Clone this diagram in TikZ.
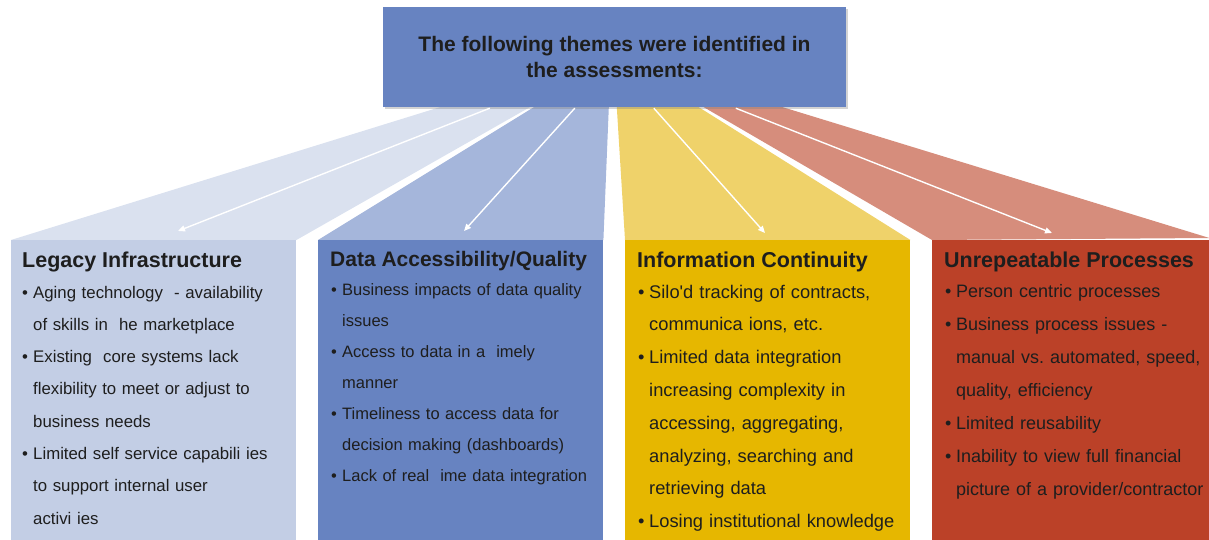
\documentclass[tikz,border=0pt]{standalone}
\usepackage{fontspec}
\setmainfont{Liberation Sans}
\usetikzlibrary{arrows.meta,shadows,calc,backgrounds}
\frenchspacing

\definecolor{topblue}{HTML}{6783C1}
\definecolor{fanA}{HTML}{DAE1EF}
\definecolor{boxA}{HTML}{C3CEE5}
\definecolor{fanB}{HTML}{A5B6DB}
\definecolor{boxB}{HTML}{6783C1}
\definecolor{fanC}{HTML}{EFD26A}
\definecolor{boxC}{HTML}{E6B700}
\definecolor{fanD}{HTML}{D68D7C}
\definecolor{boxD}{HTML}{BB4128}
\definecolor{txt}{HTML}{1E1E1E}

\newcommand{\bitem}{\makebox[11pt][l]{\textbullet}}
\newcommand{\bcont}{\hspace*{11pt}}

\tikzset{
  theme/.style={rectangle,inner sep=0pt,anchor=north west,minimum width=285pt,minimum height=300pt},
  heading/.style={anchor=base west,inner sep=0pt,text=txt,font=\bfseries\fontsize{21.5}{24}\selectfont},
  items/.style={anchor=base west,inner sep=0pt,text=txt,text width=300pt,align=left},
  flow/.style={white,line width=1.4pt,-{Triangle[length=7pt,width=6pt]}}
}

\begin{document}
\begin{tikzpicture}[x=1pt,y=-1pt]

    \useasboundingbox (0,0) rectangle (1209,540);

    \node[rectangle,fill=topblue,minimum width=463pt,minimum height=100pt,inner sep=0pt,
          drop shadow={shadow xshift=1.5pt,shadow yshift=-2.5pt,opacity=0.35},
          align=center,text=txt,font=\bfseries\fontsize{21}{26}\selectfont]
          (top) at (614.5,57) {The following themes were identified in\\the assessments:};

    \node[theme,fill=boxA] (legacy) at (11,240) {};
    \node[theme,fill=boxB] (data) at (318,240) {};
    \node[theme,fill=boxC] (info) at (625,240) {};
    \node[theme,fill=boxD,minimum width=277pt] (proc) at (932,240) {};

    % fans behind the boxes
    \begin{scope}[on background layer]
    \fill[fanA] ($(top.south west)+(57,0)$) -- ($(top.south west)+(147,0)$) -- (legacy.north east) -- (legacy.north west) -- cycle;
    \fill[fanB] ($(top.south west)+(151,0)$) -- ($(top.south west)+(226,0)$) -- (data.north east) -- (data.north west) -- cycle;
    \fill[fanC] ($(top.south west)+(234,0)$) -- ($(top.south west)+(316,0)$) -- (info.north east) -- (info.north west) -- cycle;
    \fill[fanD] ($(top.south west)+(321,0)$) -- ($(top.south west)+(400,0)$) -- ($(proc.north east)+(0,-2)$) -- (proc.north west) -- cycle;
    \end{scope}

    \draw[flow] ($(top.south west)+(107,1)$) -- ($(legacy.north west)+(167,-9)$);
    \draw[flow] ($(top.south west)+(192,1)$) -- ($(data.north west)+(146,-9)$);
    \draw[flow] ($(top.south west)+(271,1)$) -- ($(info.north west)+(140,-7)$);
    \draw[flow] ($(top.south west)+(353,1)$) -- ($(proc.north west)+(120,-7)$);

    \node[heading] (legacyhead) at ($(legacy.north west)+(11,27)$) {Legacy Infrastructure};
    \node[items,font=\fontsize{16.8}{32.3}\selectfont] (legacylist) at ($(legacy.north west)+(11,58)$)
        {\bitem Aging technology \ - availability\\
         \bcont of skills in \ he marketplace\\
         \bitem Existing \ core systems lack\\
         \bcont flexibility to meet or adjust to\\
         \bcont business needs\\
         \bitem Limited self service capabili ies\\
         \bcont to support internal user\\
         \bcont activi ies};

    \node[heading,font=\bfseries\fontsize{21}{24}\selectfont] (datahead) at ($(data.north west)+(12,26)$) {Data Accessibility/Quality};
    \node[items,font=\fontsize{16.5}{31}\selectfont] (datalist) at ($(data.north west)+(13,55)$)
        {\bitem Business impacts of data quality\\
         \bcont issues\\
         \bitem Access to data in a \ imely\\
         \bcont manner\\
         \bitem Timeliness to access data for\\
         \bcont decision making (dashboards)\\
         \bitem Lack of real \ ime data integration};

    \node[heading] (infohead) at ($(info.north west)+(12,27)$) {Information Continuity};
    \node[items,font=\fontsize{18.3}{32.8}\selectfont] (infolist) at ($(info.north west)+(13,58)$)
        {\bitem Silo\textquotesingle d tracking of contracts,\\
         \bcont communica ions, etc.\\
         \bitem Limited data integration\\
         \bcont increasing complexity in\\
         \bcont accessing, aggregating,\\
         \bcont analyzing, searching and\\
         \bcont retrieving data\\
         \bitem Losing institutional knowledge};

    \node[heading] (prochead) at ($(proc.north west)+(12,27)$) {Unrepeatable Processes};
    \node[items,font=\fontsize{18}{33}\selectfont] (proclist) at ($(proc.north west)+(13,57)$)
        {\bitem Person centric processes\\
         \bitem Business process issues -\\
         \bcont manual vs. automated, speed,\\
         \bcont quality, efficiency\\
         \bitem Limited reusability\\
         \bitem Inability to view full financial\\
         \bcont picture of a provider/contractor};

\end{tikzpicture}
\end{document}
